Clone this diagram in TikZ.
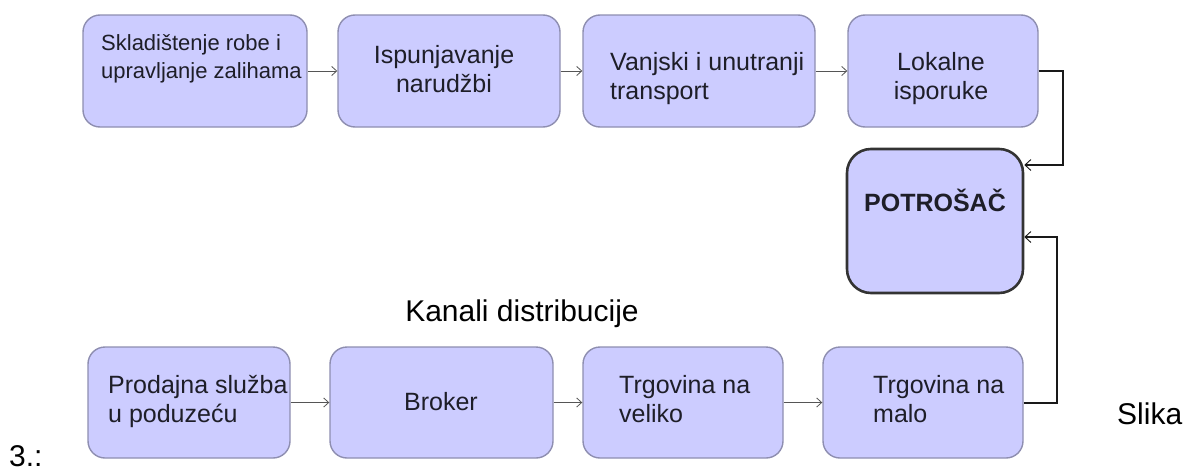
\documentclass[tikz,border=0pt]{standalone}
\usepackage{fontspec}
\setmainfont{Liberation Sans}
\usetikzlibrary{arrows.meta,calc}
\definecolor{boxfill}{HTML}{CCCCFF}
\definecolor{boxline}{HTML}{8E8EB0}
\definecolor{txtcol}{HTML}{1E1E28}
\definecolor{arrcol}{HTML}{555555}
\tikzset{
  box/.style={draw=boxline, line width=1.4pt, fill=boxfill, rounded corners=17pt, inner sep=0pt},
  bigbox/.style={draw=black!80, line width=2.6pt, fill=boxfill, rounded corners=24pt, inner sep=0pt},
  txt/.style={inner sep=0pt, text=txtcol, font=\fontsize{25}{29}\selectfont},
  smalltxt/.style={txt, font=\fontsize{22}{28}\selectfont},
  plaintxt/.style={inner sep=0pt, text=black, font=\fontsize{30}{34}\selectfont},
  conn/.style={draw=arrcol, line width=0.8pt, -{Straight Barb[length=5pt,width=9pt,line width=0.8pt]}},
  bconn/.style={draw=black!90, line width=2pt, -{Straight Barb[length=6pt,width=11pt,line width=0.9pt]}},
}
\begin{document}
\begin{tikzpicture}[x=1pt,y=-1pt]
\useasboundingbox (0,0) rectangle (1191,471);
% top row
\node[box, minimum width=224pt, minimum height=112pt] (b1) at (195,71) {};
\node[box, minimum width=222pt, minimum height=112pt] (b2) at (449,71) {};
\node[box, minimum width=232pt, minimum height=112pt] (b3) at (699,71) {};
\node[box, minimum width=190pt, minimum height=112pt] (b4) at (943,71) {};
% consumer
\node[bigbox, minimum width=176pt, minimum height=144pt] (P) at (935,221) {};
% bottom row
\node[box, minimum width=202pt, minimum height=111pt] (b5) at (189,402.5) {};
\node[box, minimum width=223pt, minimum height=111pt] (b6) at (441.5,402.5) {};
\node[box, minimum width=200pt, minimum height=111pt] (b7) at (683,402.5) {};
\node[box, minimum width=200pt, minimum height=111pt] (b8) at (923,402.5) {};
% texts
\node[smalltxt, anchor=base west] (t1a) at (101,50) {Skladištenje robe i};
\node[smalltxt, anchor=base west] (t1b) at (101,78) {upravljanje zalihama};
\node[txt, anchor=base] (t2a) at (444,63) {Ispunjavanje};
\node[txt, anchor=base] (t2b) at (444,92) {narudžbi};
\node[txt, anchor=base west] (t3a) at (610,70) {Vanjski i unutranji};
\node[txt, anchor=base west] (t3b) at (610,99) {transport};
\node[txt, anchor=base] (t4a) at (941,70) {Lokalne};
\node[txt, anchor=base] (t4b) at (941,99) {isporuke};
\node[txt, anchor=base, font=\fontsize{25}{29}\selectfont\bfseries] (tP) at (935,211) {POTROŠAČ};
\node[txt, anchor=base west] (t5a) at (108,393) {Prodajna služba};
\node[txt, anchor=base west] (t5b) at (108,422) {u poduzeću};
\node[txt, anchor=base] (t6) at (441,410) {Broker};
\node[txt, anchor=base west] (t7a) at (619,393) {Trgovina na};
\node[txt, anchor=base west] (t7b) at (619,422) {veliko};
\node[txt, anchor=base west] (t8a) at (873,393) {Trgovina na};
\node[txt, anchor=base west] (t8b) at (873,422) {malo};
\node[plaintxt, anchor=base] (kd) at (522,321) {Kanali distribucije};
\node[plaintxt, anchor=base west] (sl) at (1117,424) {Slika};
\node[plaintxt, anchor=base west] (n3) at (9,466) {3.:};
% connectors
\draw[conn] (b1) -- (b2);
\draw[conn] (b2) -- (b3);
\draw[conn] (b3) -- (b4);
\draw[conn] (b5) -- (b6);
\draw[conn] (b6) -- (b7);
\draw[conn] (b7) -- (b8);
\coordinate (r1) at (1063,0);
\coordinate (r2) at (1057,0);
\draw[bconn] (b4.east) -- (b4.east -| r1) -- ($(P.east -| r1)+(0,-56)$) -- ($(P.east)+(0,-56)$);
\draw[bconn] (b8.east) -- (b8.east -| r2) -- ($(P.east -| r2)+(0,16)$) -- ($(P.east)+(0,16)$);
\end{tikzpicture}
\end{document}
